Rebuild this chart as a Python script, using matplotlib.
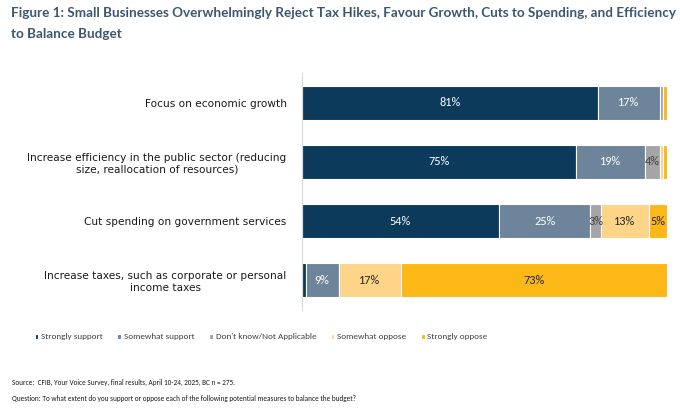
import matplotlib.pyplot as plt
import numpy as np

categories = [
    "Focus on economic growth",
    "Increase efficiency in the public sector (reducing\nsize, reallocation of resources)",
    "Cut spending on government services",
    "Increase taxes, such as corporate or personal\nincome taxes",
]
series_names = [
    "Strongly support",
    "Somewhat support",
    "Don't know/Not Applicable",
    "Somewhat oppose",
    "Strongly oppose",
]
strongly_support = [81, 75, 54, 1]
somewhat_support = [17, 19, 25, 9]
dont_know = [1, 4, 3, 0]
somewhat_oppose = [0, 1, 13, 17]
strongly_oppose = [1, 1, 5, 73]

colors = ["#0b3a5b", "#6d849b", "#a5a5a5", "#fdd488", "#fbb816"]
text_colors = ["white", "white", "#404040", "#262626", "#262626"]


def main():
    series = [strongly_support, somewhat_support, dont_know, somewhat_oppose, strongly_oppose]

    fig = plt.figure(figsize=(6.8, 4.15), dpi=100)
    ax = fig.add_axes([302 / 680, 1 - 310 / 415, 365 / 680, 237 / 415])

    y = np.arange(len(categories))
    left = np.zeros(len(categories))
    for vals, name, col, tcol in zip(series, series_names, colors, text_colors):
        vals = np.array(vals, dtype=float)
        bars = ax.barh(y, vals, left=left, height=0.57, color=col,
                       edgecolor="white", linewidth=0.8, label=name)
        for b, v in zip(bars, vals):
            if v >= 3:
                ax.text(b.get_x() + b.get_width() / 2, b.get_y() + b.get_height() / 2,
                        f"{int(v)}%", ha="center", va="center", color=tcol,
                        fontsize=8.8, family="Carlito")
        left += vals

    ax.set_xlim(0, 100)
    ax.set_ylim(len(categories) - 0.5, -0.5)
    ax.set_yticks(y)
    ax.set_yticklabels(categories, fontsize=7.6, color="#1a1a1a",
                       multialignment="center", linespacing=1.2)
    ax.tick_params(axis="y", length=0, pad=11)
    ax.set_xticks([])
    for s in ["top", "right", "bottom"]:
        ax.spines[s].set_visible(False)
    ax.spines["left"].set_color("#d9d9d9")
    ax.spines["left"].set_linewidth(0.8)

    title_style = dict(fontsize=9.7, fontweight="bold", color="#3b5770",
                       va="center", family="Lato")
    fig.text(11 / 680, 1 - 13 / 415,
             "Figure 1: Small Businesses Overwhelmingly Reject Tax Hikes, Favour Growth, Cuts to Spending, and Efficiency",
             **title_style)
    fig.text(11 / 680, 1 - 34 / 415, "to Balance Budget", **title_style)

    handles, labels = ax.get_legend_handles_labels()
    fig.legend(handles, labels, loc="center", bbox_to_anchor=(261 / 680, 1 - 337 / 415),
               ncol=5, frameon=False, handlelength=0.4, handleheight=0.4,
               handletextpad=0.3, columnspacing=1.6, labelcolor="#404040",
               prop={"family": "Carlito", "size": 6.6})

    foot_style = dict(fontsize=5.2, color="#1a1a1a", va="center", family="Carlito")
    fig.text(12 / 680, 1 - 382 / 415,
             "Source:  CFIB, Your Voice Survey, final results, April 10-24, 2025, BC n = 275.",
             **foot_style)
    fig.text(12 / 680, 1 - 398 / 415,
             "Question: To what extent do you support or oppose each of the following potential measures to balance the budget?",
             **foot_style)

    fig.savefig("out.png", dpi=100)


if __name__ == "__main__":
    main()
